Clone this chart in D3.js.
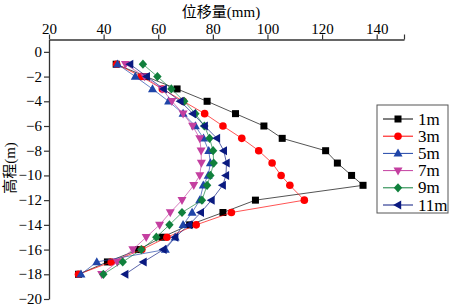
<!DOCTYPE html>
<html lang="zh">
<head>
<meta charset="UTF-8">
<title>位移量</title>
<script src="https://d3js.org/d3.v7.min.js"></script>
<style>
  body { margin: 0; background: #fff; }
</style>
</head>
<body>
<svg width="453" height="307"></svg>
<script>
// 深度 (m)
var depth = [-1, -2, -3, -4, -5, -6, -7, -8, -9, -10, -10.8, -12, -13, -14, -15, -16, -17, -18];
// 各测点位移 (mm)
var s1m  = [44.6, 55.5, 66.9, 77.9, 88.3, 98.7, 105.4, 121.3, 125.6, 130.8, 135.0, 95.6, 83.7, 71.5, 61.4, 52.8, 41.4, 30.8];
var s3m  = [44.8, 53.8, 61.5, 69.2, 77.0, 83.7, 90.6, 96.8, 101.7, 105.0, 108.2, 113.5, 86.8, 73.9, 63.2, 54.0, 42.8, 30.8];
var s5m  = [45.1, 51.6, 57.9, 63.8, 69.1, 73.6, 76.6, 78.5, 79.1, 78.3, 76.5, 75.2, 72.4, 69.1, 66.2, 62.6, 37.5, 31.7];
var s7m  = [48.0, 55.0, 61.4, 65.0, 69.1, 72.6, 75.2, 75.7, 75.8, 75.2, 73.0, 68.7, 64.4, 60.5, 55.6, 50.7, 45.0, 39.3];
var s9m  = [54.4, 59.7, 64.8, 69.5, 73.6, 76.9, 78.8, 80.1, 80.3, 79.1, 77.9, 76.0, 68.7, 64.1, 59.3, 53.8, 47.0, 39.9];
var s11m = [49.7, 55.8, 62.0, 68.1, 72.7, 77.0, 81.5, 84.0, 85.0, 84.8, 83.6, 79.5, 75.6, 71.3, 66.2, 61.9, 54.6, 47.9];
var names  = ['1m', '3m', '5m', '7m', '9m', '11m'];
var colors = ['#000000', '#ff0000', '#1f45a8', '#c43fa0', '#10803c', '#0a1a80'];
var shapes = ['square', 'circle', 'up', 'down', 'diamond', 'left'];
var xTicks = [20, 40, 60, 80, 100, 120, 140];
var yTicks = [0, -2, -4, -6, -8, -10, -12, -14, -16, -18, -20];

var series = [s1m, s3m, s5m, s7m, s9m, s11m];
var FONT = '"Liberation Serif", "DejaVu Serif", "Noto Sans CJK SC", serif';

var svg = d3.select('svg').attr('font-family', FONT);

var x = d3.scaleLinear().domain([20, 150]).range([49, 404]);
var y = d3.scaleLinear().domain([1, -20]).range([39.5, 299]);

// 上方 x 轴
var gx = svg.append('g').attr('transform', 'translate(0,39.5)');
gx.call(d3.axisTop(x).tickValues(d3.range(30, 150, 20)).tickSize(3).tickSizeOuter(0).tickFormat(''));
gx.call(d3.axisTop(x).tickValues(xTicks.concat([150])).tickSize(5).tickSizeOuter(0).tickFormat(function (d) { return d === 150 ? '' : d; }));

// 左侧 y 轴
var gy = svg.append('g').attr('transform', 'translate(49,0)');
gy.call(d3.axisLeft(y).tickValues(d3.range(-19, 1, 2)).tickSize(3).tickSizeOuter(0).tickFormat(''));
gy.call(d3.axisLeft(y).tickValues(yTicks).tickSize(5).tickSizeOuter(0));

svg.selectAll('g').attr('font-family', FONT);
svg.selectAll('.domain').attr('stroke', '#333').attr('stroke-width', 1.3);
svg.selectAll('.tick line').attr('stroke', '#333').attr('stroke-width', 1.2);
svg.selectAll('.tick text').attr('font-size', 15).attr('fill', '#000').attr('font-family', FONT);
gx.selectAll('.tick text').attr('y', -6).attr('dy', 0);
gy.selectAll('.tick text').attr('x', -7).attr('dy', '0.3em');

// 轴标题
svg.append('text').attr('x', 221).attr('y', 17).attr('text-anchor', 'middle')
    .attr('font-size', 15).attr('font-family', FONT).text('位移量(mm)');
svg.append('text').attr('transform', 'translate(15,168) rotate(-90)').attr('text-anchor', 'middle')
    .attr('font-size', 15).attr('font-family', FONT).text('高程(m)');

// 标记形状
function marker(sel, shape, color) {
    if (shape === 'square') {
        sel.append('rect').attr('x', -3.5).attr('y', -3.5).attr('width', 7).attr('height', 7).attr('fill', color);
    } else if (shape === 'circle') {
        sel.append('circle').attr('r', 3.8).attr('fill', color);
    } else {
        var p = {
            up: '0,-4.8 4.5,3.2 -4.5,3.2',
            down: '0,4.8 4.5,-3.2 -4.5,-3.2',
            left: '-4.8,0 3.2,-4.5 3.2,4.5',
            diamond: '0,-4.6 4.2,0 0,4.6 -4.2,0'
        }[shape];
        sel.append('polygon').attr('points', p).attr('fill', color);
    }
}

var line = d3.line()
    .x(function (d) { return x(d[0]); })
    .y(function (d) { return y(d[1]); });

series.forEach(function (vals, k) {
    var pts = vals.map(function (v, i) { return [v, depth[i]]; });
    var g = svg.append('g');
    g.append('path').attr('d', line(pts)).attr('fill', 'none')
        .attr('stroke', colors[k]).attr('stroke-width', 0.9).attr('opacity', 0.75);
    g.selectAll('g.m').data(pts).enter().append('g').attr('class', 'm')
        .attr('transform', function (d) { return 'translate(' + x(d[0]) + ',' + y(d[1]) + ')'; })
        .each(function () { marker(d3.select(this), shapes[k], colors[k]); });
});

// 图例
var lg = svg.append('g').attr('transform', 'translate(377,105)');
lg.append('rect').attr('width', 71).attr('height', 108).attr('fill', '#fff')
    .attr('stroke', '#555').attr('stroke-width', 1);
names.forEach(function (n, k) {
    var row = lg.append('g').attr('transform', 'translate(0,' + (14 + k * 17.2) + ')');
    row.append('line').attr('x1', 6).attr('x2', 36).attr('stroke', colors[k]).attr('stroke-width', 1);
    var m = row.append('g').attr('transform', 'translate(21,0)');
    marker(m, shapes[k], colors[k]);
    row.append('text').attr('x', 41).attr('y', 5.5).attr('font-size', 17).attr('font-family', FONT).text(n);
});
</script>
</body>
</html>
